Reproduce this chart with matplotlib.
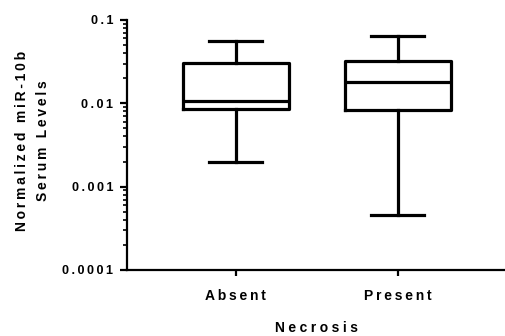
import matplotlib
matplotlib.use("Agg")
import matplotlib.pyplot as plt
from matplotlib.ticker import LogLocator, FixedLocator, FixedFormatter, NullFormatter

plt.rcParams['font.family'] = ['Liberation Sans', 'DejaVu Sans']
plt.rcParams['font.weight'] = 'bold'

# Box summaries (whisker low, Q1, median, Q3, whisker high)
groups = ["Absent", "Present"]
whislo = [0.00199, 0.000461]
q1 = [0.00863, 0.0083]
med = [0.01077, 0.0182]
q3 = [0.0307, 0.0319]
whishi = [0.0565, 0.0648]

y_ticks = [0.0001, 0.001, 0.01, 0.1]
y_tick_labels = ["0.0001", "0.001", "0.01", "0.1"]


def spaced(s, sp="\u2009"):
    return sp.join(s)


W, H = 505, 336
fig = plt.figure(figsize=(W / 100, H / 100), dpi=100)
ax = fig.add_axes([127 / W, 66 / H, 378 / W, 250 / H])

stats = []
for i, g in enumerate(groups):
    stats.append(dict(label=g, whislo=whislo[i], q1=q1[i], med=med[i],
                      q3=q3[i], whishi=whishi[i], fliers=[]))

lw = 2.3
ax.bxp(stats, positions=[0, 1], widths=0.654, capwidths=0.327,
       showfliers=False,
       boxprops=dict(color="black", linewidth=lw),
       medianprops=dict(color="black", linewidth=lw),
       whiskerprops=dict(color="black", linewidth=lw),
       capprops=dict(color="black", linewidth=lw))

ax.set_yscale("log")
ax.set_ylim(0.0001, 0.1)
ax.set_xlim(-0.671, 1.662)

ax.yaxis.set_major_locator(FixedLocator(y_ticks))
ax.yaxis.set_major_formatter(FixedFormatter([spaced(t) for t in y_tick_labels]))
ax.yaxis.set_minor_locator(LogLocator(base=10, subs=range(2, 10)))
ax.yaxis.set_minor_formatter(NullFormatter())

ax.set_xticks([0, 1])
ax.set_xticklabels([spaced(g) for g in groups])

for s in ["top", "right"]:
    ax.spines[s].set_visible(False)
for s in ["left", "bottom"]:
    ax.spines[s].set_linewidth(1.6)

ax.tick_params(axis="y", which="major", length=5, width=1.6,
               labelsize=9, pad=5)
ax.tick_params(axis="y", which="minor", length=3, width=1.2)
ax.tick_params(axis="x", which="major", length=4.5, width=1.6,
               labelsize=10, pad=9)

fig.text(32.5 / W, 1 - 141 / H,
         spaced("Normalized miR-10b") + "\n" + spaced("Serum Levels"),
         rotation=90, ha="center", va="center", multialignment="center",
         fontsize=10, fontweight="bold", linespacing=1.65)
fig.text(316.5 / W, 1 - 328 / H, spaced("Necrosis", "\u2005"),
         ha="center", va="center", fontsize=10, fontweight="bold")

fig.savefig("out.png", dpi=100)
